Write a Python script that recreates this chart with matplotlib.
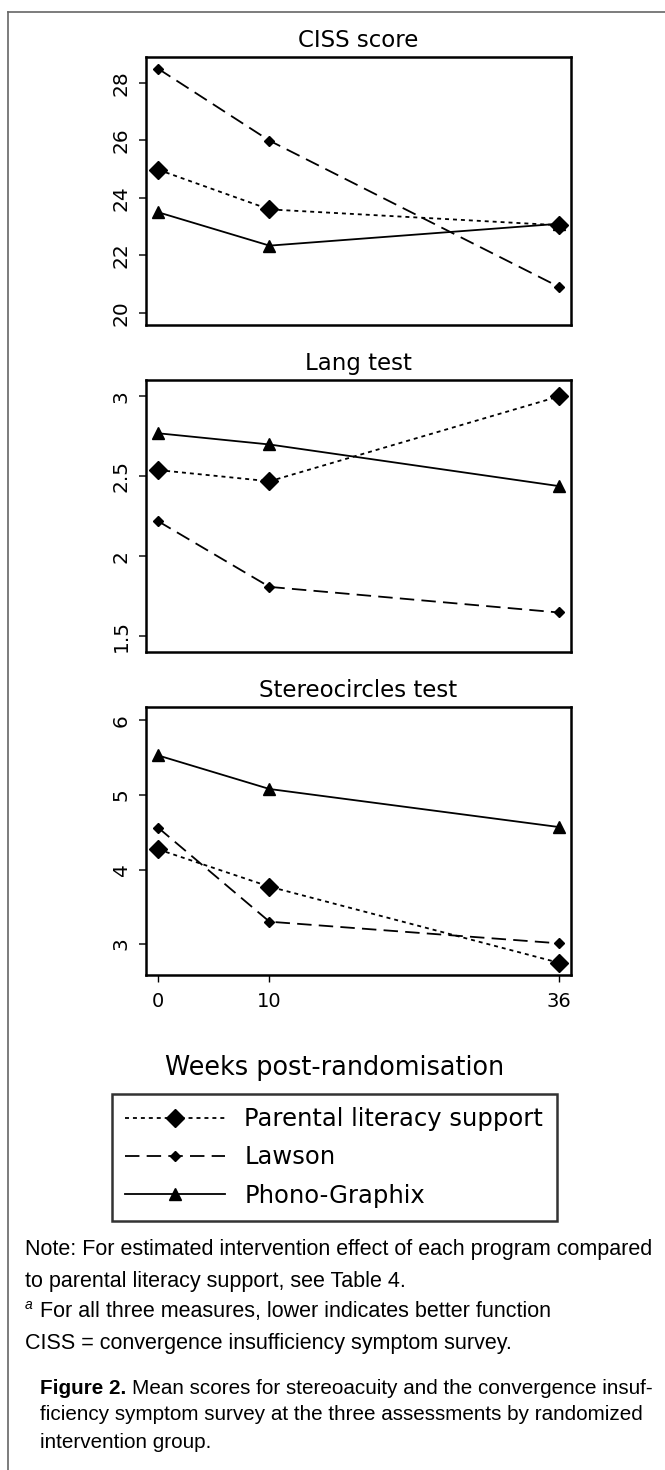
import matplotlib
matplotlib.use('Agg')
import matplotlib.pyplot as plt
from matplotlib.lines import Line2D

# weeks post-randomisation
weeks = [0, 10, 36]
week_labels = ['0', '10', '36']

groups = ['Parental literacy support', 'Lawson', 'Phono-Graphix']
titles = ['CISS score', 'Lang test', 'Stereocircles test']

# CISS score
ciss_parental = [24.98, 23.60, 23.05]
ciss_lawson = [28.49, 25.99, 20.91]
ciss_phono = [23.50, 22.34, 23.10]

# Lang test
lang_parental = [2.54, 2.47, 3.00]
lang_lawson = [2.22, 1.81, 1.65]
lang_phono = [2.77, 2.70, 2.44]

# Stereocircles test
stereo_parental = [4.27, 3.77, 2.75]
stereo_lawson = [4.56, 3.30, 3.01]
stereo_phono = [5.53, 5.08, 4.57]

ciss_ticks = [20, 22, 24, 26, 28]
ciss_ticklabels = ['20', '22', '24', '26', '28']
lang_ticks = [1.5, 2, 2.5, 3]
lang_ticklabels = ['1.5', '2', '2.5', '3']
stereo_ticks = [3, 4, 5, 6]
stereo_ticklabels = ['3', '4', '5', '6']

W, H = 665, 1470
fig = plt.figure(figsize=(W / 100, H / 100), dpi=100)
plt.rcParams['font.family'] = ['DejaVu Sans']

def fx(px):
    return px / W

def fy(py):
    return 1 - py / H

styles = [
    dict(ls=(0, (2.2, 2.2)), marker='D', ms=9),
    dict(ls=(0, (8, 4)), marker='D', ms=5),
    dict(ls='-', marker='^', ms=9),
]

panel_data = [
    ([ciss_parental, ciss_lawson, ciss_phono], ciss_ticks, ciss_ticklabels, (19.58, 28.9)),
    ([lang_parental, lang_lawson, lang_phono], lang_ticks, lang_ticklabels, (1.403, 3.103)),
    ([stereo_parental, stereo_lawson, stereo_phono], stereo_ticks, stereo_ticklabels, (2.585, 6.18)),
]
tops = [57, 380, 707]
bottoms = [325, 652, 975]
left, right = 146, 571

handles = []
for i, (series, ticks, tlabels, ylim) in enumerate(panel_data):
    ax = fig.add_axes([fx(left), fy(bottoms[i]), fx(right - left), (bottoms[i] - tops[i]) / H])
    for j, vals in enumerate(series):
        ln, = ax.plot(weeks, vals, color='black', lw=1.3, mfc='black', mec='black',
                      label=groups[j], **styles[j])
        if i == 0:
            handles.append(ln)
    ax.set_xlim(-1.1, 37.1)
    ax.set_ylim(*ylim)
    ax.set_yticks(ticks)
    ax.set_yticklabels(tlabels, rotation=90, va='center')
    ax.tick_params(axis='y', length=5, width=1.2, pad=6, labelsize=14.5, color='#222')
    if i < 2:
        ax.set_xticks([])
    else:
        ax.set_xticks(weeks)
        ax.set_xticklabels(week_labels)
        ax.tick_params(axis='x', length=5, width=1.0, pad=7, labelsize=14)
    for s in ax.spines.values():
        s.set_linewidth(1.8)
    ax.set_title(titles[i], fontsize=16.5, pad=7)

fig.text(fx(335), fy(1068), 'Weeks post-randomisation', ha='center', va='center', fontsize=18.4)

leg = fig.legend(handles=handles, labels=groups, loc='upper left',
                 bbox_to_anchor=(fx(112), fy(1094)), fontsize=17.5, handlelength=4.1,
                 frameon=True, fancybox=False, edgecolor='black', borderpad=0.55,
                 labelspacing=0.58, handletextpad=0.8, borderaxespad=0)
leg.get_frame().set_linewidth(1.8)

# outer frame
fig.add_artist(Line2D([fx(8), 1], [fy(12), fy(12)], transform=fig.transFigure, color='#666', lw=1.2))
fig.add_artist(Line2D([fx(8), fx(8)], [fy(12), 0], transform=fig.transFigure, color='#666', lw=1.2))

note_font = ['Liberation Sans']
fs = 15.5
fig.text(fx(25), fy(1249), 'Note: For estimated intervention effect of each program compared',
         va='center', fontsize=fs, family=note_font)
fig.text(fx(25), fy(1282), 'to parental literacy support, see Table 4.',
         va='center', fontsize=fs, family=note_font)
fig.text(fx(25), fy(1305), 'a', va='center', fontsize=10, style='italic', family=note_font)
fig.text(fx(40), fy(1311), 'For all three measures, lower indicates better function',
         va='center', fontsize=fs, family=note_font)
fig.text(fx(25), fy(1343), 'CISS = convergence insufficiency symptom survey.',
         va='center', fontsize=fs, family=note_font)

renderer = fig.canvas.get_renderer()
cs = 14.9
t_bold = fig.text(fx(40), fy(1388), 'Figure 2.', va='center', fontsize=cs,
                  fontweight='bold', family=note_font)
bw = t_bold.get_window_extent(renderer).width
fig.text(fx(40 + bw + 6), fy(1388), 'Mean scores for stereoacuity and the convergence insuf-',
         va='center', fontsize=cs, family=note_font)
fig.text(fx(40), fy(1415), 'ficiency symptom survey at the three assessments by randomized',
         va='center', fontsize=cs, family=note_font)
fig.text(fx(40), fy(1442), 'intervention group.', va='center', fontsize=cs, family=note_font)

fig.savefig('out.png', dpi=100)
